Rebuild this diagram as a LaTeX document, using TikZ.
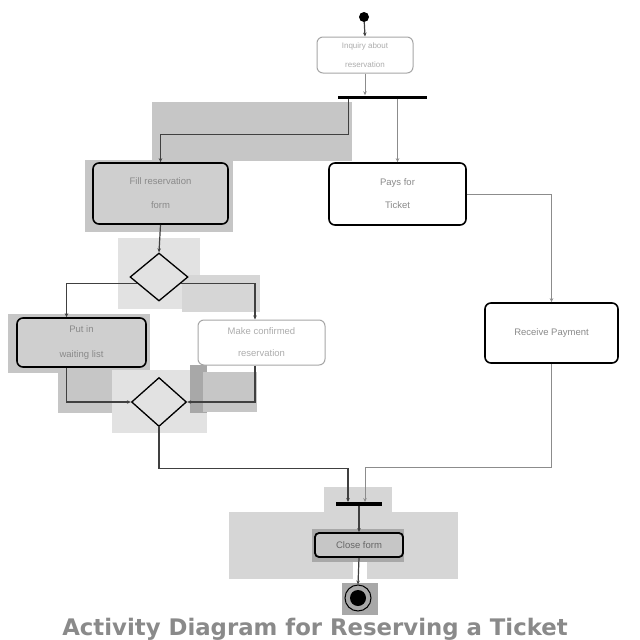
\documentclass[tikz,border=0pt]{standalone}
\usepackage{fontspec}
\setmainfont{Liberation Sans}
\newfontfamily\titlefont{DejaVu Sans}
\usetikzlibrary{shapes.geometric,arrows.meta,calc}
\definecolor{txt}{HTML}{8A8A8A}
\definecolor{hlA}{HTML}{D6D6D6}
\definecolor{hlB}{HTML}{C6C6C6}
\definecolor{hlC}{HTML}{A8A8A8}
\definecolor{hlD}{HTML}{E2E2E2}
\tikzset{
  act/.style={draw=black, line width=1.6pt, rounded corners=6pt, inner sep=1pt,
    align=center, text=txt, font=\fontsize{9.5}{22}\selectfont},
  actlight/.style={act, draw=gray!70, line width=1pt},
  decis/.style={draw=black, line width=1.3pt, diamond, inner sep=0pt},
  barnode/.style={fill=black, draw=none, inner sep=0pt, rectangle},
  arr/.style={draw=black!75, line width=1.2pt, -{Stealth[length=4pt,width=3.5pt]}},
  arrl/.style={arr, draw=black!45, line width=1pt},
  hl/.style={draw=none}
}
\begin{document}
\begin{tikzpicture}[x=1pt,y=-1pt]
\useasboundingbox (0,0) rectangle (640,640);
\fill[white] (0,0) rectangle (640,640);
% highlight rectangles
\fill[hlB] (152,102) rectangle (352,161);
\fill[hlB] (85,160) rectangle (233,232);
\fill[hlD] (118,238) rectangle (200,309);
\fill[hlA] (182,275) rectangle (260,312);
\fill[hlB] (8,314) rectangle (150,373);
\fill[hlB] (58,368) rectangle (128,413);
\fill[hlC] (113,372) rectangle (128,413);
\fill[hlD] (112,370) rectangle (207,433);
\fill[hlC] (190,365) rectangle (207,413);
\fill[hlB] (203,372) rectangle (257,412);
\fill[hlA] (324,487) rectangle (392,514);
\fill[hlA] (229,512) rectangle (458,579);
\fill[hlC] (312,529) rectangle (404,562);
\fill[hlC] (342,583) rectangle (378,615);
\fill[white] (353,562) rectangle (367,580);

% nodes
\node[circle, fill=black, minimum size=10pt, inner sep=0pt] (init) at (364,17) {};
\node[actlight, minimum width=96pt, minimum height=36pt, font=\fontsize{8}{19}\selectfont, text=txt!70] (inq) at (365,55) {Inquiry about\\reservation};
\node[barnode, minimum width=89pt, minimum height=3pt] (bar1) at (382.5,97) {};
\node[act, fill=hlB!85, minimum width=135pt, minimum height=61pt, font=\fontsize{9.5}{24}\selectfont] (fill) at (160.5,193.5) {Fill reservation\\form};
\node[act, fill=white, minimum width=137pt, minimum height=62pt, font=\fontsize{9.5}{23}\selectfont] (pays) at (397.5,194) {Pays for\\Ticket};
\node[decis, fill=hlD, minimum width=58pt, minimum height=48pt] (d1) at (159,277) {};
\node[act, fill=hlB!85, minimum width=129pt, minimum height=49pt, font=\fontsize{9.5}{25}\selectfont] (put) at (81.5,342.5) {Put in\\waiting list};
\node[actlight, fill=white, minimum width=127pt, minimum height=45pt, text=txt!70] (make) at (261.5,342.5) {Make confirmed\\reservation};
\node[act, fill=white, minimum width=133pt, minimum height=60pt] (recv) at (551.5,333) {Receive Payment};
\node[decis, fill=hlD, minimum width=55pt, minimum height=49pt] (d2) at (159,402) {};
\node[barnode, minimum width=46pt, minimum height=3.5pt] (bar2) at (359,504) {};
\node[act, fill=hlB, line width=1.8pt, rounded corners=4pt, minimum width=88pt, minimum height=24pt, text=black!60] (close) at (359,545) {Close form};
\node[circle, draw=black, line width=1pt, fill=hlC, minimum size=26pt, inner sep=0pt] (final) at (358,598) {};
\fill[black] (final.center) circle (8pt);

% title
\node[font=\titlefont\fontsize{22.8}{26}\bfseries\selectfont, text=txt, anchor=base, inner sep=0pt] (title) at (315,635) {Activity Diagram for Reserving a Ticket};

% connectors
\draw[arr] (init) -- (inq.north);
\draw[arrl] (inq.south) -- (inq.south |- bar1.north);
\draw[arr] ([xshift=11pt]bar1.south west) -- ++(0,35.5) -| (fill.north);
\draw[arrl] (bar1.south -| pays.north) -- (pays.north);
\draw[arr] (fill.south) -- (d1.north);
\draw[arr] ($(d1.west)!0.25!(d1.south)$) -| ([xshift=-15pt]put.north);
\draw[arr] ($(d1.east)!0.25!(d1.south)$) -| ([xshift=-6.5pt]make.north);
\draw[arr] ([xshift=-15pt]put.south) |- (d2.west);
\draw[arr] ([xshift=-6.5pt]make.south) |- (d2.east);
\draw[arr] (d2.south) -- ++(0,41) -| ([xshift=-11pt]bar2.north);
\draw[arrl] (pays.east) -| (recv.north);
\draw[arrl] (recv.south) -- ++(0,104) -| ([xshift=6pt]bar2.north);
\draw[arr] (bar2.south) -- (close.north);
\draw[arr] (close.south) -- (final.north);
\end{tikzpicture}
\end{document}
